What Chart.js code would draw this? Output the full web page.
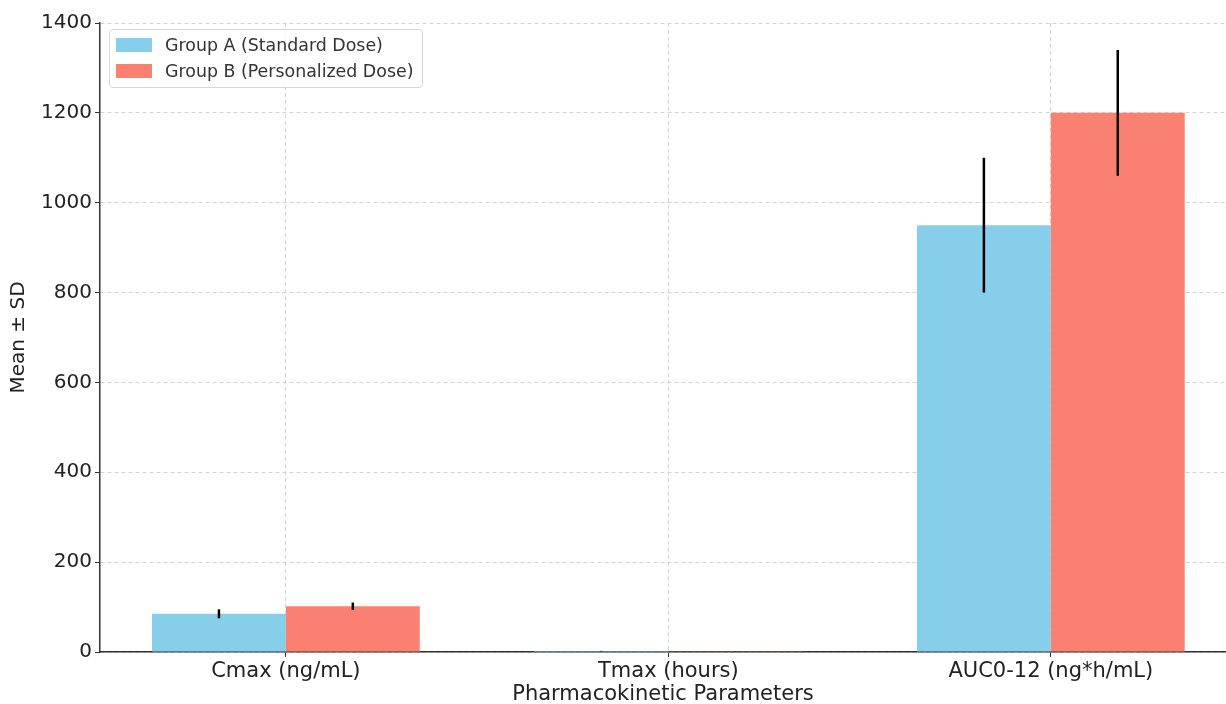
<!DOCTYPE html>
<html lang="en">
<head>
    <meta charset="UTF-8">
    <title>Pharmacokinetic Parameters</title>
    <style>
        body { margin: 0; background: #fff; font-family: "DejaVu Sans", sans-serif; }
        .wrap { position: relative; width: 1226px; height: 704px; }
        #legend {
            position: absolute; left: 109px; top: 29px;
            padding: 2px 9px 3px 6px;
            border: 1px solid #d6d6d6; border-radius: 4px;
            background: rgba(255, 255, 255, 0.85);
            font-size: 17.4px; color: #333; line-height: 26px;
        }
        #legend .row { display: flex; align-items: center; }
        #legend .sw { width: 36px; height: 14px; margin-right: 13px; }
    </style>
</head>
<body>
    <div class="wrap">
        <canvas id="pk" width="1226" height="704"></canvas>
        <div id="legend"></div>
    </div>
    <script src="https://cdn.jsdelivr.net/npm/chart.js"></script>
    <script>
        const categories = ['Cmax (ng/mL)', 'Tmax (hours)', 'AUC0-12 (ng*h/mL)'];
        const groupA = [85, 2, 950];
        const groupASd = [10, 0.5, 150];
        const groupB = [102, 1.5, 1200];
        const groupBSd = [8, 0.4, 140];
        const yTicks = [0, 200, 400, 600, 800, 1000, 1200, 1400];

        const series = [
            { label: 'Group A (Standard Dose)', values: groupA, sd: groupASd, color: '#87CEEB' },
            { label: 'Group B (Personalized Dose)', values: groupB, sd: groupBSd, color: '#FA8072' }
        ];

        // html legend inside the plot, top left
        const legend = document.getElementById('legend');
        series.forEach(s => {
            const row = document.createElement('div');
            row.className = 'row';
            row.innerHTML = `<span class="sw" style="background:${s.color}"></span><span>${s.label}</span>`;
            legend.appendChild(row);
        });

        // error bars drawn from the sd arrays through the chart scales
        const errorBars = {
            id: 'errorBars',
            afterDraw(chart) {
                const ctx = chart.ctx;
                const y = chart.scales.y;
                ctx.save();
                ctx.strokeStyle = '#000';
                ctx.lineWidth = 2.5;
                chart.data.datasets.forEach((ds, i) => {
                    const meta = chart.getDatasetMeta(i);
                    meta.data.forEach((bar, j) => {
                        const v = ds.data[j].y;
                        const sd = series[i].sd[j];
                        ctx.beginPath();
                        ctx.moveTo(bar.x, y.getPixelForValue(v - sd));
                        ctx.lineTo(bar.x, y.getPixelForValue(v + sd));
                        ctx.stroke();
                    });
                });
                ctx.restore();
            }
        };

        const gridStyle = {
            color: '#d4d4d4',
            lineWidth: 1,
            offset: false,
            tickColor: '#333',
            tickBorderDash: [],
            tickLength: 5,
            tickWidth: 1
        };
        const borderStyle = { color: '#333', width: 1.5, dash: [4, 3] };

        new Chart(document.getElementById('pk'), {
            type: 'bar',
            data: {
                datasets: series.map(s => ({
                    label: s.label,
                    data: s.values.map((v, i) => ({ x: i, y: v })),
                    backgroundColor: s.color,
                    borderWidth: 0,
                    categoryPercentage: 0.7,
                    barPercentage: 1.0
                }))
            },
            options: {
                responsive: false,
                animation: false,
                layout: { padding: { top: 23, right: 0, left: 0, bottom: 0 } },
                plugins: { legend: { display: false }, tooltip: { enabled: false } },
                scales: {
                    x: {
                        type: 'linear',
                        offset: false,
                        min: -0.486,
                        max: 2.458,
                        z: 1,
                        grid: gridStyle,
                        border: borderStyle,
                        ticks: {
                            stepSize: 1,
                            includeBounds: false,
                            autoSkip: false,
                            maxRotation: 0,
                            padding: 2,
                            color: '#222',
                            font: { family: 'DejaVu Sans', size: 21 },
                            callback: v => categories[v] ?? ''
                        },
                        title: {
                            display: true,
                            text: 'Pharmacokinetic Parameters',
                            color: '#222',
                            font: { family: 'DejaVu Sans', size: 21 },
                            padding: { top: 0, bottom: -3 }
                        },
                        afterFit: s => { s.height = 52; }
                    },
                    y: {
                        min: 0,
                        max: 1400,
                        z: 1,
                        grid: gridStyle,
                        border: borderStyle,
                        afterBuildTicks: s => { s.ticks = yTicks.map(v => ({ value: v })); },
                        ticks: {
                            padding: 3,
                            color: '#222',
                            font: { family: 'DejaVu Sans', size: 20 },
                            callback: v => String(v)
                        },
                        title: {
                            display: true,
                            text: 'Mean ± SD',
                            color: '#222',
                            font: { family: 'DejaVu Sans', size: 20 },
                            padding: { top: 7, bottom: 0 }
                        },
                        afterFit: s => { s.width = 100; }
                    }
                }
            },
            plugins: [errorBars]
        });
    </script>
</body>
</html>
